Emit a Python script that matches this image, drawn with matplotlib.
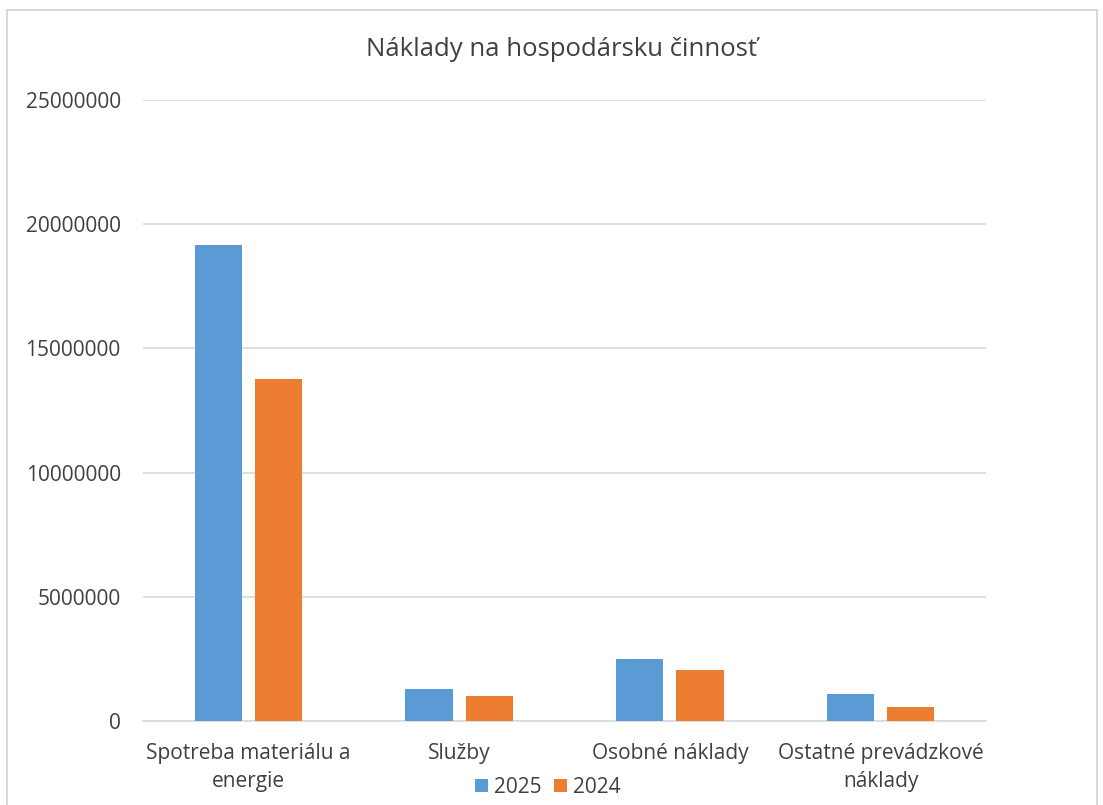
import matplotlib
matplotlib.use("Agg")
import matplotlib.pyplot as plt
from matplotlib.patches import Rectangle
import numpy as np

categories = ["Spotreba materiálu a\nenergie", "Služby", "Osobné náklady", "Ostatné prevádzkové\nnáklady"]
values_2025 = [19150000, 1290000, 2500000, 1090000]
values_2024 = [13750000, 990000, 2050000, 580000]
series_names = ["2025", "2024"]
yticks = [0, 5000000, 10000000, 15000000, 20000000, 25000000]
title = "Náklady na hospodársku činnosť"

c2025 = "#5B9BD5"
c2024 = "#ED7D31"
txt = "#404040"
grid = "#D9D9D9"

plt.rcParams['font.family'] = ['Open Sans', 'DejaVu Sans']

W, H = 1103, 805
fig = plt.figure(figsize=(W / 100, H / 100), dpi=100)
ax = fig.add_axes([143 / W, 1 - 721 / H, (986 - 143) / W, (721 - 100) / H])

x = np.arange(len(categories))
bw = 0.225
ax.bar(x - 0.143, values_2025, width=bw, color=c2025, label=series_names[0], zorder=3)
ax.bar(x + 0.143, values_2024, width=bw, color=c2024, label=series_names[1], zorder=3)

ax.set_xlim(-0.5, len(categories) - 0.5)
ax.set_ylim(0, 25000000)
ax.set_yticks(yticks)
ax.set_yticklabels([str(v) for v in yticks], fontsize=15, color=txt)
ax.set_xticks(x)
ax.set_xticklabels(categories, fontsize=15, color=txt, linespacing=1.4)
ax.tick_params(axis='both', length=0)
ax.tick_params(axis='y', pad=16)
ax.tick_params(axis='x', pad=16)
ax.grid(axis='y', color=grid, linewidth=1.2, zorder=0)
for s in ["top", "right", "left"]:
    ax.spines[s].set_visible(False)
ax.spines["bottom"].set_color(grid)
ax.spines["bottom"].set_linewidth(1.2)

fig.text(562 / W, 1 - 50 / H, title, ha='center', va='center', fontsize=18.5, color=txt)

leg = fig.legend(loc='center', bbox_to_anchor=(548 / W, 1 - 787 / H), ncol=2, frameon=False,
                 fontsize=15, handlelength=0.6, handleheight=0.6, handletextpad=0.3,
                 columnspacing=0.6, labelcolor=txt)

fig.patches.append(Rectangle((7 / W, -0.1), (1097 - 7) / W, 1.1 - 10 / H + 0.0,
                             transform=fig.transFigure, fill=False, edgecolor=grid,
                             linewidth=1.5, zorder=0))

fig.savefig("out.png", dpi=100)
